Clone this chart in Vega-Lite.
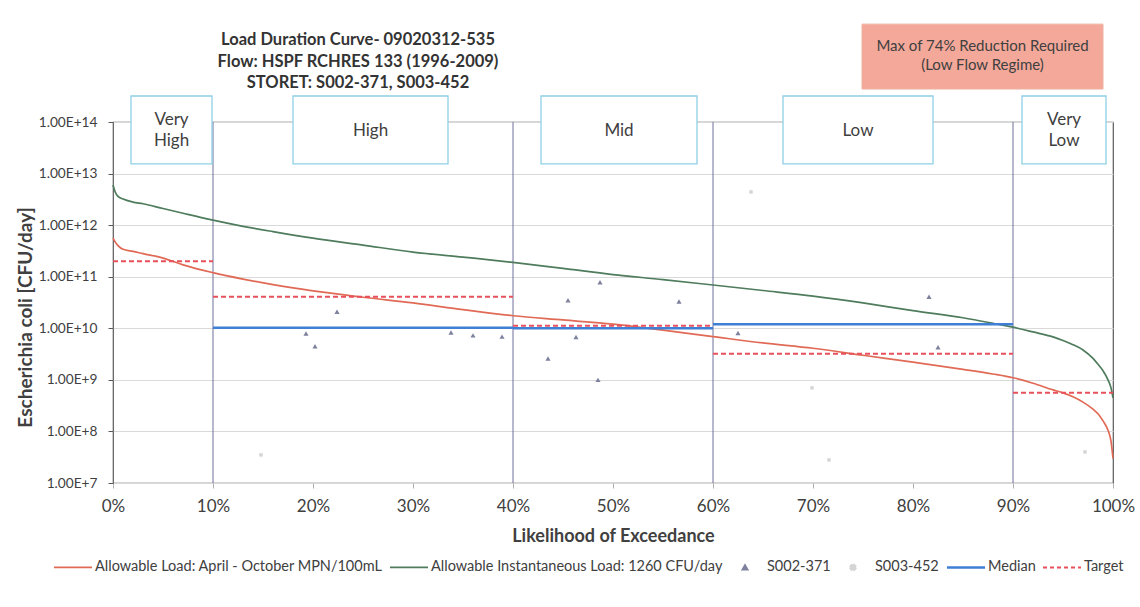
{
  "$schema": "https://vega.github.io/schema/vega-lite/v6.json",
  "width": 1000,
  "height": 361,
  "autosize": {"type": "none"},
  "padding": {"left": 113, "top": 122, "right": 27, "bottom": 124},
  "background": "white",
  "config": {
    "font": "Lato",
    "view": {"stroke": "#595959", "strokeWidth": 1.2}
  },
  "title": {
    "text": ["Load Duration Curve- 09020312-535", "Flow: HSPF RCHRES 133 (1996-2009)", "STORET: S002-371, S003-452"],
    "anchor": "start",
    "frame": "group",
    "align": "center",
    "dx": 245,
    "dy": 78,
    "fontSize": 16.5,
    "fontWeight": "bold",
    "color": "#333333",
    "lineHeight": 21.5,
    "offset": 10
  },
  "datasets": {
    "regimeLines": [{"p": 10}, {"p": 40}, {"p": 60}, {"p": 90}],
    "curves": [
      {"series": "Allowable Instantaneous Load: 1260 CFU/day", "p": 0, "v": 6.0e12},
      {"series": "Allowable Instantaneous Load: 1260 CFU/day", "p": 0.2, "v": 4.5e12},
      {"series": "Allowable Instantaneous Load: 1260 CFU/day", "p": 0.5, "v": 3.6e12},
      {"series": "Allowable Instantaneous Load: 1260 CFU/day", "p": 1, "v": 3.2e12},
      {"series": "Allowable Instantaneous Load: 1260 CFU/day", "p": 2, "v": 2.8e12},
      {"series": "Allowable Instantaneous Load: 1260 CFU/day", "p": 3, "v": 2.6e12},
      {"series": "Allowable Instantaneous Load: 1260 CFU/day", "p": 5, "v": 2.1e12},
      {"series": "Allowable Instantaneous Load: 1260 CFU/day", "p": 7, "v": 1.7e12},
      {"series": "Allowable Instantaneous Load: 1260 CFU/day", "p": 10, "v": 1.25e12},
      {"series": "Allowable Instantaneous Load: 1260 CFU/day", "p": 13, "v": 9.5e11},
      {"series": "Allowable Instantaneous Load: 1260 CFU/day", "p": 16, "v": 7.5e11},
      {"series": "Allowable Instantaneous Load: 1260 CFU/day", "p": 20, "v": 5.6e11},
      {"series": "Allowable Instantaneous Load: 1260 CFU/day", "p": 25, "v": 4.1e11},
      {"series": "Allowable Instantaneous Load: 1260 CFU/day", "p": 30, "v": 3.0e11},
      {"series": "Allowable Instantaneous Load: 1260 CFU/day", "p": 35, "v": 2.4e11},
      {"series": "Allowable Instantaneous Load: 1260 CFU/day", "p": 40, "v": 1.9e11},
      {"series": "Allowable Instantaneous Load: 1260 CFU/day", "p": 45, "v": 1.45e11},
      {"series": "Allowable Instantaneous Load: 1260 CFU/day", "p": 50, "v": 1.1e11},
      {"series": "Allowable Instantaneous Load: 1260 CFU/day", "p": 55, "v": 8.8e10},
      {"series": "Allowable Instantaneous Load: 1260 CFU/day", "p": 60, "v": 6.9e10},
      {"series": "Allowable Instantaneous Load: 1260 CFU/day", "p": 65, "v": 5.4e10},
      {"series": "Allowable Instantaneous Load: 1260 CFU/day", "p": 70, "v": 4.2e10},
      {"series": "Allowable Instantaneous Load: 1260 CFU/day", "p": 75, "v": 3.1e10},
      {"series": "Allowable Instantaneous Load: 1260 CFU/day", "p": 80, "v": 2.2e10},
      {"series": "Allowable Instantaneous Load: 1260 CFU/day", "p": 85, "v": 1.6e10},
      {"series": "Allowable Instantaneous Load: 1260 CFU/day", "p": 88, "v": 1.25e10},
      {"series": "Allowable Instantaneous Load: 1260 CFU/day", "p": 90, "v": 1.05e10},
      {"series": "Allowable Instantaneous Load: 1260 CFU/day", "p": 92, "v": 8.5e9},
      {"series": "Allowable Instantaneous Load: 1260 CFU/day", "p": 94, "v": 6.8e9},
      {"series": "Allowable Instantaneous Load: 1260 CFU/day", "p": 95, "v": 5.8e9},
      {"series": "Allowable Instantaneous Load: 1260 CFU/day", "p": 96, "v": 4.8e9},
      {"series": "Allowable Instantaneous Load: 1260 CFU/day", "p": 97, "v": 3.8e9},
      {"series": "Allowable Instantaneous Load: 1260 CFU/day", "p": 98, "v": 2.6e9},
      {"series": "Allowable Instantaneous Load: 1260 CFU/day", "p": 98.5, "v": 2.0e9},
      {"series": "Allowable Instantaneous Load: 1260 CFU/day", "p": 99, "v": 1.5e9},
      {"series": "Allowable Instantaneous Load: 1260 CFU/day", "p": 99.5, "v": 1.0e9},
      {"series": "Allowable Instantaneous Load: 1260 CFU/day", "p": 99.8, "v": 7.0e8},
      {"series": "Allowable Instantaneous Load: 1260 CFU/day", "p": 100, "v": 4.5e8},
      {"series": "Allowable Load: April - October MPN/100mL", "p": 0, "v": 5.6e11},
      {"series": "Allowable Load: April - October MPN/100mL", "p": 0.2, "v": 4.8e11},
      {"series": "Allowable Load: April - October MPN/100mL", "p": 0.5, "v": 4.0e11},
      {"series": "Allowable Load: April - October MPN/100mL", "p": 1, "v": 3.4e11},
      {"series": "Allowable Load: April - October MPN/100mL", "p": 2, "v": 3.1e11},
      {"series": "Allowable Load: April - October MPN/100mL", "p": 3, "v": 2.8e11},
      {"series": "Allowable Load: April - October MPN/100mL", "p": 5, "v": 2.3e11},
      {"series": "Allowable Load: April - October MPN/100mL", "p": 7, "v": 1.7e11},
      {"series": "Allowable Load: April - October MPN/100mL", "p": 10, "v": 1.2e11},
      {"series": "Allowable Load: April - October MPN/100mL", "p": 13, "v": 9.0e10},
      {"series": "Allowable Load: April - October MPN/100mL", "p": 16, "v": 7.0e10},
      {"series": "Allowable Load: April - October MPN/100mL", "p": 20, "v": 5.3e10},
      {"series": "Allowable Load: April - October MPN/100mL", "p": 25, "v": 4.0e10},
      {"series": "Allowable Load: April - October MPN/100mL", "p": 30, "v": 3.1e10},
      {"series": "Allowable Load: April - October MPN/100mL", "p": 35, "v": 2.3e10},
      {"series": "Allowable Load: April - October MPN/100mL", "p": 40, "v": 1.75e10},
      {"series": "Allowable Load: April - October MPN/100mL", "p": 45, "v": 1.45e10},
      {"series": "Allowable Load: April - October MPN/100mL", "p": 50, "v": 1.2e10},
      {"series": "Allowable Load: April - October MPN/100mL", "p": 55, "v": 9.2e9},
      {"series": "Allowable Load: April - October MPN/100mL", "p": 60, "v": 6.9e9},
      {"series": "Allowable Load: April - October MPN/100mL", "p": 65, "v": 5.2e9},
      {"series": "Allowable Load: April - October MPN/100mL", "p": 70, "v": 4.1e9},
      {"series": "Allowable Load: April - October MPN/100mL", "p": 75, "v": 3.0e9},
      {"series": "Allowable Load: April - October MPN/100mL", "p": 80, "v": 2.2e9},
      {"series": "Allowable Load: April - October MPN/100mL", "p": 85, "v": 1.6e9},
      {"series": "Allowable Load: April - October MPN/100mL", "p": 88, "v": 1.3e9},
      {"series": "Allowable Load: April - October MPN/100mL", "p": 90, "v": 1.1e9},
      {"series": "Allowable Load: April - October MPN/100mL", "p": 92, "v": 8.6e8},
      {"series": "Allowable Load: April - October MPN/100mL", "p": 94, "v": 6.4e8},
      {"series": "Allowable Load: April - October MPN/100mL", "p": 95, "v": 5.6e8},
      {"series": "Allowable Load: April - October MPN/100mL", "p": 96, "v": 4.7e8},
      {"series": "Allowable Load: April - October MPN/100mL", "p": 97, "v": 3.7e8},
      {"series": "Allowable Load: April - October MPN/100mL", "p": 98, "v": 2.7e8},
      {"series": "Allowable Load: April - October MPN/100mL", "p": 98.5, "v": 2.2e8},
      {"series": "Allowable Load: April - October MPN/100mL", "p": 99, "v": 1.6e8},
      {"series": "Allowable Load: April - October MPN/100mL", "p": 99.5, "v": 1.05e8},
      {"series": "Allowable Load: April - October MPN/100mL", "p": 99.8, "v": 6.5e7},
      {"series": "Allowable Load: April - October MPN/100mL", "p": 100, "v": 3.0e7}
    ],
    "steps": [
      {"series": "Target", "p": 0, "p2": 10, "v": 2.0e11},
      {"series": "Target", "p": 10, "p2": 40, "v": 4.1e10},
      {"series": "Target", "p": 40, "p2": 60, "v": 1.12e10},
      {"series": "Target", "p": 60, "p2": 90, "v": 3.2e9},
      {"series": "Target", "p": 90, "p2": 100, "v": 5.6e8},
      {"series": "Median", "p": 10, "p2": 40, "v": 1.02e10},
      {"series": "Median", "p": 40, "p2": 60, "v": 1.0e10},
      {"series": "Median", "p": 60, "p2": 90, "v": 1.2e10}
    ],
    "points": [
      {"series": "S002-371", "p": 19.3, "v": 7.9e9},
      {"series": "S002-371", "p": 20.2, "v": 4.5e9},
      {"series": "S002-371", "p": 22.4, "v": 2.1e10},
      {"series": "S002-371", "p": 33.8, "v": 8.3e9},
      {"series": "S002-371", "p": 36.0, "v": 7.3e9},
      {"series": "S002-371", "p": 38.9, "v": 6.9e9},
      {"series": "S002-371", "p": 43.5, "v": 2.6e9},
      {"series": "S002-371", "p": 45.5, "v": 3.5e10},
      {"series": "S002-371", "p": 46.3, "v": 6.8e9},
      {"series": "S002-371", "p": 48.5, "v": 1.0e9},
      {"series": "S002-371", "p": 48.7, "v": 7.8e10},
      {"series": "S002-371", "p": 56.6, "v": 3.3e10},
      {"series": "S002-371", "p": 62.5, "v": 8.1e9},
      {"series": "S002-371", "p": 81.6, "v": 4.1e10},
      {"series": "S002-371", "p": 82.5, "v": 4.3e9},
      {"series": "S003-452", "p": 14.8, "v": 3.5e7},
      {"series": "S003-452", "p": 63.8, "v": 4.4e12},
      {"series": "S003-452", "p": 69.9, "v": 7.0e8},
      {"series": "S003-452", "p": 71.6, "v": 2.8e7},
      {"series": "S003-452", "p": 97.2, "v": 4.0e7}
    ],
    "boxes": [
      {"label": "Very\nHigh", "lines": 2, "p": 1.8, "p2": 9.9, "pc": 5.85},
      {"label": "High", "lines": 1, "p": 18.0, "p2": 33.5, "pc": 25.75},
      {"label": "Mid", "lines": 1, "p": 42.8, "p2": 58.4, "pc": 50.6},
      {"label": "Low", "lines": 1, "p": 67.0, "p2": 82.0, "pc": 74.5},
      {"label": "Very\nLow", "lines": 2, "p": 90.9, "p2": 99.3, "pc": 95.1}
    ],
    "note": [
      {"label": "Max of 74% Reduction Required\n(Low Flow Regime)", "p": 74.9, "p2": 99.0, "pc": 86.95, "v": 7.9e15, "v2": 4.36e14, "vc": 2.98e15}
    ]
  },
  "layer": [
    {
      "data": {"name": "regimeLines"},
      "mark": {"type": "rule", "color": "#6e6e9c", "strokeWidth": 1},
      "encoding": {
        "x": {
          "field": "p", "type": "quantitative",
          "scale": {"domain": [0, 100], "nice": false, "zero": false},
          "axis": {
            "title": "Likelihood of Exceedance",
            "values": [0, 10, 20, 30, 40, 50, 60, 70, 80, 90, 100],
            "labelExpr": "datum.value + '%'",
            "labelFlush": false,
            "labelFontSize": 17,
            "labelColor": "#404040",
            "labelPadding": 10,
            "tickSize": 5,
            "tickColor": "#b0b0b0",
            "domain": false,
            "grid": false,
            "titleFontSize": 18,
            "titleFontWeight": "bold",
            "titleColor": "#404040",
            "titlePadding": 13
          }
        }
      }
    },
    {
      "data": {"name": "curves"},
      "mark": {"type": "line", "strokeWidth": 1.7, "interpolate": "monotone"},
      "encoding": {
        "x": {"field": "p", "type": "quantitative", "title": "Likelihood of Exceedance"},
        "y": {
          "field": "v", "type": "quantitative",
          "scale": {"type": "log", "domain": [1e7, 1e14], "nice": false, "zero": false},
          "axis": {
            "title": "Escherichia coli [CFU/day]",
            "values": [1e7, 1e8, 1e9, 1e10, 1e11, 1e12, 1e13, 1e14],
            "labelExpr": "upper(format(datum.value, '.2e'))",
            "labelFontSize": 13.7,
            "labelColor": "#404040",
            "labelPadding": 11,
            "tickSize": 5,
            "tickColor": "#595959",
            "domain": false,
            "grid": true,
            "gridColor": "#d9d9d9",
            "titleFontSize": 19,
            "titleFontWeight": "bold",
            "titleColor": "#404040",
            "titleX": -88,
            "titleY": 195,
            "titleBaseline": "middle",
            "titleAngle": -90
          }
        },
        "color": {
          "field": "series", "type": "nominal",
          "scale": {
            "domain": ["Allowable Load: April - October MPN/100mL", "Allowable Instantaneous Load: 1260 CFU/day", "S002-371", "S003-452", "Median", "Target"],
            "range": ["#e06a56", "#4e7c5c", "#7d819e", "#d4d4d4", "#3f7fd6", "#e8505c"]
          },
          "legend": {
            "orient": "none",
            "legendX": -59,
            "legendY": 438,
            "direction": "horizontal",
            "title": null,
            "labelFontSize": 14.5,
            "labelColor": "#404040",
            "labelOffset": 3,
            "columnPadding": 3,
            "symbolSize": 1444,
            "labelLimit": 400,
            "encode": {
              "labels": {
                "update": {
                  "x": {"value": 41}
                }
              },
              "symbols": {
                "update": {
                  "x": {"value": 19},
                  "shape": {"signal": "datum.value === 'S002-371' ? 'triangle-up' : datum.value === 'S003-452' ? 'cross' : 'stroke'"},
                  "size": {"signal": "(datum.value === 'S002-371' || datum.value === 'S003-452') ? 30 : 1444"},
                  "fill": {"signal": "datum.value === 'S002-371' ? '#7d819e' : datum.value === 'S003-452' ? '#d4d4d4' : 'transparent'"},
                  "stroke": {"signal": "(datum.value === 'S002-371' || datum.value === 'S003-452') ? 'transparent' : scale('color', datum.value)"},
                  "strokeDash": {"signal": "datum.value === 'Target' ? [4, 3] : [1, 0]"},
                  "strokeWidth": {"signal": "datum.value === 'Median' ? 2.5 : datum.value === 'Target' ? 2 : 1.7"},
                  "angle": {"signal": "datum.value === 'S003-452' ? 45 : 0"},
                  "opacity": {"value": 1}
                }
              }
            }
          }
        }
      }
    },
    {
      "data": {"name": "steps"},
      "mark": {"type": "rule"},
      "encoding": {
        "x": {"field": "p", "type": "quantitative", "title": "Likelihood of Exceedance"},
        "x2": {"field": "p2"},
        "y": {"field": "v", "type": "quantitative", "title": "Escherichia coli [CFU/day]"},
        "color": {"field": "series", "type": "nominal"},
        "strokeDash": {
          "field": "series", "type": "nominal",
          "scale": {"domain": ["Median", "Target"], "range": [[1, 0], [5, 3]]},
          "legend": null
        },
        "size": {
          "field": "series", "type": "nominal",
          "scale": {"domain": ["Median", "Target"], "range": [2.5, 2]},
          "legend": null
        }
      }
    },
    {
      "data": {"name": "points"},
      "transform": [{"filter": "datum.series === 'S003-452'"}],
      "mark": {"type": "point", "shape": "cross", "angle": 45, "filled": true, "size": 18, "opacity": 1},
      "encoding": {
        "x": {"field": "p", "type": "quantitative", "title": "Likelihood of Exceedance"},
        "y": {"field": "v", "type": "quantitative", "title": "Escherichia coli [CFU/day]"},
        "color": {"field": "series", "type": "nominal"}
      }
    },
    {
      "data": {"name": "points"},
      "transform": [{"filter": "datum.series === 'S002-371'"}],
      "mark": {"type": "point", "shape": "triangle-up", "filled": true, "size": 26, "opacity": 1},
      "encoding": {
        "x": {"field": "p", "type": "quantitative", "title": "Likelihood of Exceedance"},
        "y": {"field": "v", "type": "quantitative", "title": "Escherichia coli [CFU/day]"},
        "color": {"field": "series", "type": "nominal"}
      }
    },
    {
      "data": {"name": "boxes"},
      "mark": {"type": "rect", "fill": "white", "stroke": "#8fd0e6", "strokeWidth": 1.3},
      "encoding": {
        "x": {"field": "p", "type": "quantitative"},
        "x2": {"field": "p2"},
        "y": {"datum": 3.19e14, "type": "quantitative"},
        "y2": {"datum": 1.54e13}
      }
    },
    {
      "data": {"name": "boxes"},
      "transform": [{"filter": "datum.lines === 1"}],
      "mark": {"type": "text", "fontSize": 17, "color": "#404040", "baseline": "middle", "align": "center"},
      "encoding": {
        "x": {"field": "pc", "type": "quantitative"},
        "y": {"datum": 6.7e13, "type": "quantitative"},
        "text": {"field": "label"}
      }
    },
    {
      "data": {"name": "boxes"},
      "transform": [{"filter": "datum.lines === 2"}],
      "mark": {"type": "text", "fontSize": 17, "color": "#404040", "lineBreak": "\n", "lineHeight": 21, "baseline": "middle", "align": "center"},
      "encoding": {
        "x": {"field": "pc", "type": "quantitative"},
        "y": {"datum": 1.09e14, "type": "quantitative"},
        "text": {"field": "label"}
      }
    },
    {
      "data": {"name": "note"},
      "mark": {"type": "rect", "fill": "#f4a899", "stroke": "#f0b0a0", "strokeWidth": 1},
      "encoding": {
        "x": {"field": "p", "type": "quantitative"},
        "x2": {"field": "p2"},
        "y": {"field": "v", "type": "quantitative"},
        "y2": {"field": "v2"}
      }
    },
    {
      "data": {"name": "note"},
      "mark": {"type": "text", "fontSize": 15, "color": "#404040", "lineBreak": "\n", "lineHeight": 19.5, "baseline": "middle", "align": "center"},
      "encoding": {
        "x": {"field": "pc", "type": "quantitative"},
        "y": {"field": "vc", "type": "quantitative"},
        "text": {"field": "label"}
      }
    }
  ]
}
